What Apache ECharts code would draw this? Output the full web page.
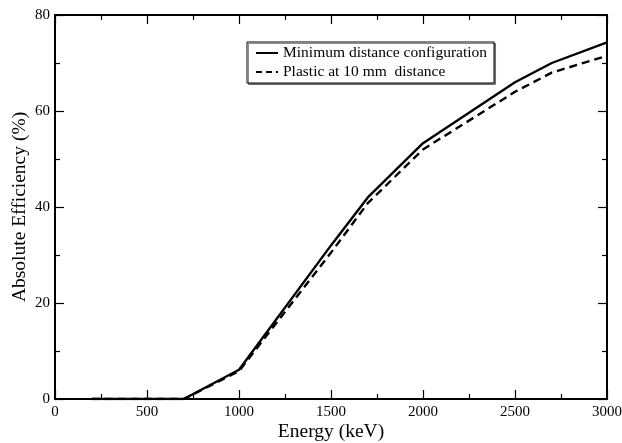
<!DOCTYPE html>
<html>
<head>
<meta charset="utf-8">
<script src="https://cdn.jsdelivr.net/npm/echarts@6/dist/echarts.min.js"></script>
<style>
  html,body{margin:0;padding:0;background:#fff;}
  #main{width:622px;height:443px;}
</style>
</head>
<body>
<div id="main"></div>
<script>
// energy points (keV)
var energy = [200, 700, 1000, 1500, 1700, 2000, 2500, 2700, 3000];
// absolute efficiency (%)
var minDistance = [0, 0, 6.1, 32, 42, 53.3, 66, 70, 74.3];
var plastic10mm = [0, 0, 5.8, 30.5, 40.8, 52, 64, 68, 71.5];
var seriesNames = ['Minimum distance configuration', 'Plastic at 10 mm  distance'];

function pairs(xs, ys){
  return xs.map(function(x, i){ return [x, ys[i]] })
}

var font = 'Liberation Serif, Times New Roman, serif';
var axisCommon = {
  axisLine:{onZero:false, lineStyle:{color:'#000', width:2}},
  axisTick:{inside:true, length:9, lineStyle:{color:'#000', width:1.2}},
  minorTick:{show:true, splitNumber:2, length:5, lineStyle:{color:'#000', width:1.2}},
  splitLine:{show:false}
};

var chart = echarts.init(document.getElementById('main'));
var option = {
  animation:false,
  grid:{left:55, right:15, top:15, bottom:44, outerBoundsMode:'none', containLabel:false},
  legend:{
    left:247, top:42,
    orient:'vertical',
    itemWidth:22, itemHeight:10, itemGap:3,
    padding:[3,7,3,8],
    borderColor:'#000', borderWidth:1,
    backgroundColor:'#fff',
    shadowColor:'rgba(0,0,0,0.45)', shadowOffsetX:1.5, shadowOffsetY:1.5,
    itemStyle:{opacity:0},
    textStyle:{fontFamily:font, fontSize:15.5, color:'#000'},
    data:[
      {name:seriesNames[0], lineStyle:{type:'solid', width:2}},
      {name:seriesNames[1], lineStyle:{type:[6,4], width:2}}
    ]
  },
  xAxis:[
    Object.assign({
      type:'value', min:0, max:3000, interval:500,
      name:'Energy (keV)', nameLocation:'middle', nameGap:23, nameMoveOverlap:false,
      nameTextStyle:{fontFamily:font, fontSize:19.5, color:'#000'},
      axisLabel:{fontFamily:font, fontSize:15, color:'#000', margin:6,
        formatter:function(v){ return String(v) }}
    }, axisCommon),
    Object.assign({
      type:'value', min:0, max:3000, interval:500, position:'top',
      axisLabel:{show:false}
    }, axisCommon)
  ],
  yAxis:[
    Object.assign({
      type:'value', min:0, max:80, interval:20,
      name:'Absolute Efficiency (%)', nameLocation:'middle', nameGap:25, nameMoveOverlap:false,
      nameTextStyle:{fontFamily:font, fontSize:19.5, color:'#000'},
      axisLabel:{fontFamily:font, fontSize:15, color:'#000', margin:5}
    }, axisCommon),
    Object.assign({
      type:'value', min:0, max:80, interval:20, position:'right',
      axisLabel:{show:false}
    }, axisCommon)
  ],
  series:[
    {
      name:seriesNames[0], type:'line', showSymbol:false, symbol:'none',
      data:pairs(energy, minDistance),
      lineStyle:{color:'#000', width:2.4, type:'solid'},
      itemStyle:{color:'#000'}
    },
    {
      name:seriesNames[1], type:'line', showSymbol:false, symbol:'none',
      data:pairs(energy, plastic10mm),
      lineStyle:{color:'#000', width:2.4, type:[8,5]},
      itemStyle:{color:'#000'}
    }
  ]
};
chart.setOption(option);
</script>
</body>
</html>
